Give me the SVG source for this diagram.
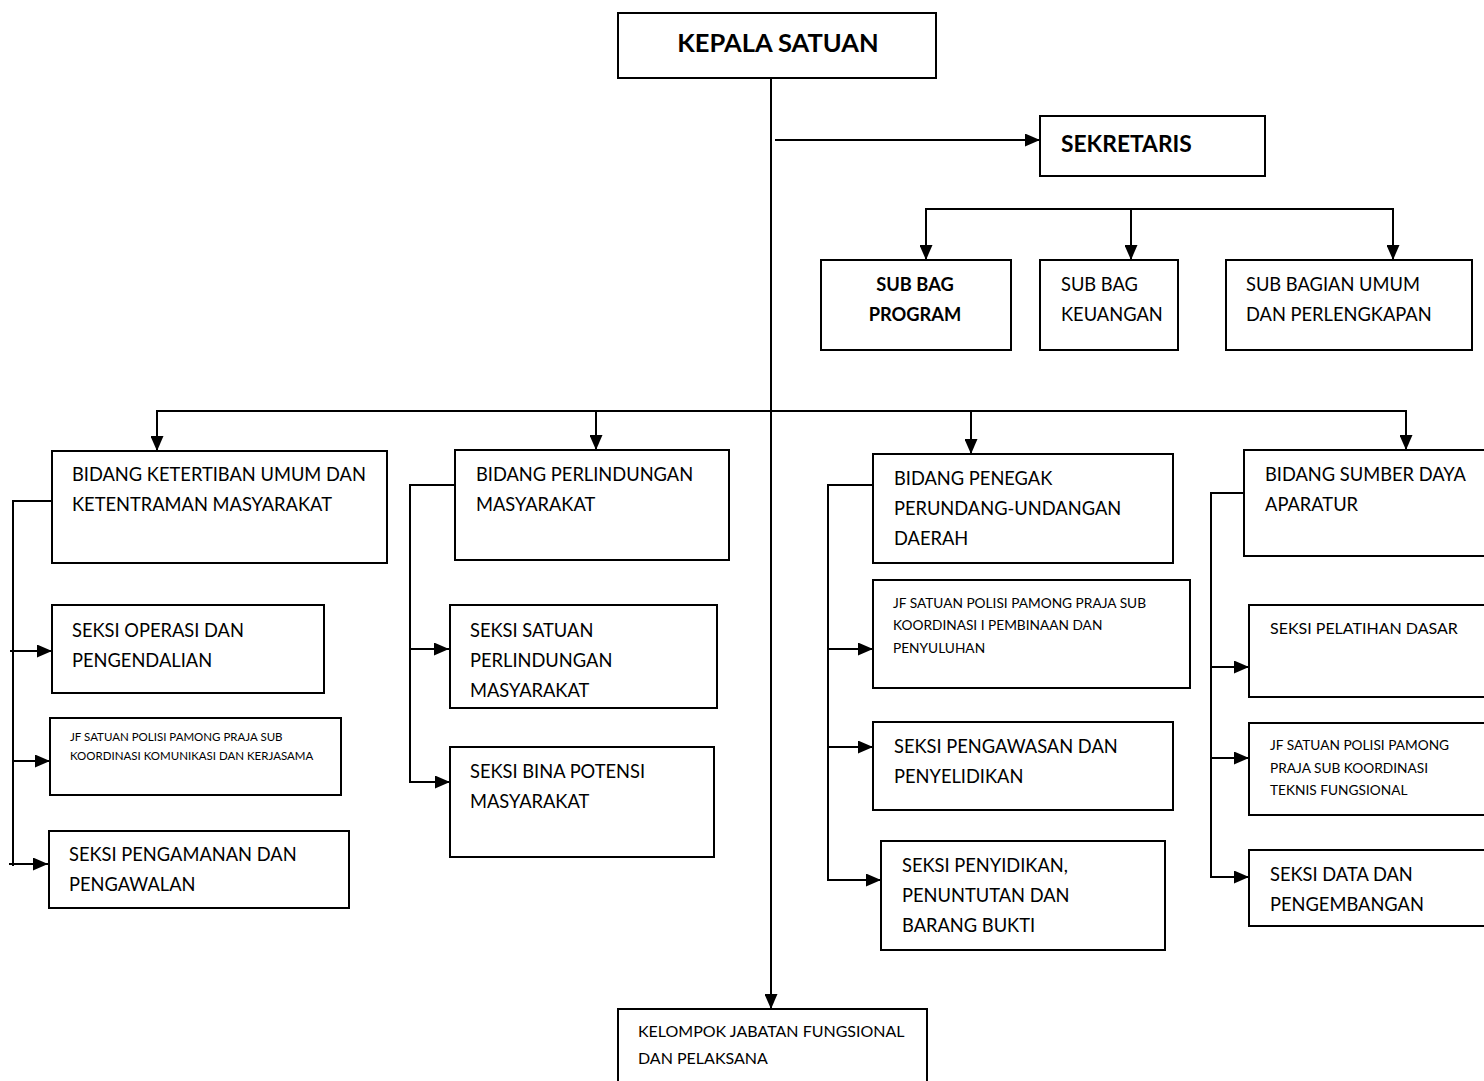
<svg xmlns="http://www.w3.org/2000/svg" width="1484" height="1081" viewBox="0 0 1484 1081">
<defs>
<marker id="ah" markerWidth="15" markerHeight="13" refX="15" refY="6.5" orient="auto" markerUnits="userSpaceOnUse">
<path d="M0,0 L15,6.5 L0,13 Z" fill="#000"/>
</marker>
<style>
rect{fill:#fff;stroke:#000;stroke-width:2}
.c line,.c polyline{stroke:#000;stroke-width:2;fill:none}
text{font-family:Lato,"Open Sans",sans-serif;fill:#000}
.t{font-size:18.3px}
.b{font-weight:bold}
.s{font-size:11.5px}
.s2{font-size:13.7px}
.m{font-size:16px}
</style>
</defs>
<rect x="0" y="0" width="1484" height="1081" style="stroke:none"/>
<g class="c" id="connectors">
<line x1="771" y1="78" x2="771" y2="1009" marker-end="url(#ah)"/>
<line x1="775" y1="140" x2="1040" y2="140" marker-end="url(#ah)"/>
<line x1="926" y1="209" x2="1393" y2="209"/>
<line x1="926" y1="208" x2="926" y2="260" marker-end="url(#ah)"/>
<line x1="1131" y1="208" x2="1131" y2="260" marker-end="url(#ah)"/>
<line x1="1393" y1="208" x2="1393" y2="260" marker-end="url(#ah)"/>
<line x1="157" y1="411" x2="1406" y2="411"/>
<line x1="157" y1="410" x2="157" y2="451" marker-end="url(#ah)"/>
<line x1="596" y1="410" x2="596" y2="450" marker-end="url(#ah)"/>
<line x1="971" y1="410" x2="971" y2="454" marker-end="url(#ah)"/>
<line x1="1406" y1="410" x2="1406" y2="450" marker-end="url(#ah)"/>
<polyline points="52,501 13,501 13,866"/>
<line x1="10" y1="651" x2="52" y2="651" marker-end="url(#ah)"/>
<line x1="13" y1="761" x2="50" y2="761" marker-end="url(#ah)"/>
<line x1="9" y1="864" x2="48" y2="864" marker-end="url(#ah)"/>
<polyline points="455,485 410,485 410,783"/>
<line x1="410" y1="649" x2="449" y2="649" marker-end="url(#ah)"/>
<line x1="409" y1="782" x2="450" y2="782" marker-end="url(#ah)"/>
<polyline points="873,485 828,485 828,881"/>
<line x1="828" y1="649" x2="873" y2="649" marker-end="url(#ah)"/>
<line x1="828" y1="747" x2="873" y2="747" marker-end="url(#ah)"/>
<line x1="827" y1="880" x2="881" y2="880" marker-end="url(#ah)"/>
<polyline points="1244,493 1211,493 1211,878"/>
<line x1="1211" y1="667" x2="1249" y2="667" marker-end="url(#ah)"/>
<line x1="1211" y1="758" x2="1249" y2="758" marker-end="url(#ah)"/>
<line x1="1210" y1="877" x2="1249" y2="877" marker-end="url(#ah)"/>
</g>
<g id="kepala">
<rect x="618" y="13" width="318" height="65"/>
<text x="778" y="52" text-anchor="middle" class="b" font-size="25.5">KEPALA SATUAN</text>
</g>
<g id="sekretaris">
<rect x="1040" y="116" width="225" height="60"/>
<text x="1061" y="152" class="b" font-size="22.8">SEKRETARIS</text>
</g>
<g id="subbag-program">
<rect x="821" y="260" width="190" height="90"/>
<text x="915" y="291" text-anchor="middle" class="t b">SUB BAG</text>
<text x="915" y="321" text-anchor="middle" class="t b">PROGRAM</text>
</g>
<g id="subbag-keuangan">
<rect x="1040" y="260" width="138" height="90"/>
<text x="1061" y="291" class="t">SUB BAG</text>
<text x="1061" y="321" class="t">KEUANGAN</text>
</g>
<g id="subbag-umum">
<rect x="1226" y="260" width="246" height="90"/>
<text x="1246" y="291" class="t">SUB BAGIAN UMUM</text>
<text x="1246" y="321" class="t">DAN PERLENGKAPAN</text>
</g>
<g id="bidang-ketertiban">
<rect x="52" y="451" width="335" height="112"/>
<text x="72" y="481" class="t">BIDANG KETERTIBAN UMUM DAN</text>
<text x="72" y="511" class="t">KETENTRAMAN MASYARAKAT</text>
</g>
<g id="seksi-operasi">
<rect x="52" y="605" width="272" height="88"/>
<text x="72" y="637" class="t">SEKSI OPERASI DAN</text>
<text x="72" y="667" class="t">PENGENDALIAN</text>
</g>
<g id="jf-komunikasi">
<rect x="50" y="718" width="291" height="77"/>
<text x="70" y="741" class="s">JF SATUAN POLISI PAMONG PRAJA SUB</text>
<text x="70" y="760" class="s">KOORDINASI KOMUNIKASI DAN KERJASAMA</text>
</g>
<g id="seksi-pengamanan">
<rect x="49" y="831" width="300" height="77"/>
<text x="69" y="861" class="t">SEKSI PENGAMANAN DAN</text>
<text x="69" y="891" class="t">PENGAWALAN</text>
</g>
<g id="bidang-perlindungan">
<rect x="455" y="450" width="274" height="110"/>
<text x="476" y="481" class="t">BIDANG PERLINDUNGAN</text>
<text x="476" y="511" class="t">MASYARAKAT</text>
</g>
<g id="seksi-satuan">
<rect x="450" y="605" width="267" height="103"/>
<text x="470" y="637" class="t">SEKSI SATUAN</text>
<text x="470" y="667" class="t">PERLINDUNGAN</text>
<text x="470" y="697" class="t">MASYARAKAT</text>
</g>
<g id="seksi-bina">
<rect x="450" y="747" width="264" height="110"/>
<text x="470" y="778" class="t">SEKSI BINA POTENSI</text>
<text x="470" y="808" class="t">MASYARAKAT</text>
</g>
<g id="bidang-penegak">
<rect x="873" y="454" width="300" height="109"/>
<text x="894" y="485" class="t">BIDANG PENEGAK</text>
<text x="894" y="515" class="t">PERUNDANG-UNDANGAN</text>
<text x="894" y="545" class="t">DAERAH</text>
</g>
<g id="jf-pembinaan">
<rect x="873" y="580" width="317" height="108"/>
<text x="893" y="608" class="s2">JF SATUAN POLISI PAMONG PRAJA SUB</text>
<text x="893" y="630" class="s2">KOORDINASI I PEMBINAAN DAN</text>
<text x="893" y="653" class="s2">PENYULUHAN</text>
</g>
<g id="seksi-pengawasan">
<rect x="873" y="722" width="300" height="88"/>
<text x="894" y="753" class="t">SEKSI PENGAWASAN DAN</text>
<text x="894" y="783" class="t">PENYELIDIKAN</text>
</g>
<g id="seksi-penyidikan">
<rect x="881" y="841" width="284" height="109"/>
<text x="902" y="872" class="t">SEKSI PENYIDIKAN,</text>
<text x="902" y="902" class="t">PENUNTUTAN DAN</text>
<text x="902" y="932" class="t">BARANG BUKTI</text>
</g>
<g id="bidang-sdm">
<rect x="1244" y="450" width="250" height="106"/>
<text x="1265" y="481" class="t">BIDANG SUMBER DAYA</text>
<text x="1265" y="511" class="t">APARATUR</text>
</g>
<g id="seksi-pelatihan">
<rect x="1249" y="605" width="245" height="92"/>
<text x="1270" y="634" class="m">SEKSI PELATIHAN DASAR</text>
</g>
<g id="jf-teknis">
<rect x="1249" y="723" width="245" height="92"/>
<text x="1270" y="750" class="s2">JF SATUAN POLISI PAMONG</text>
<text x="1270" y="773" class="s2">PRAJA SUB KOORDINASI</text>
<text x="1270" y="795" class="s2">TEKNIS FUNGSIONAL</text>
</g>
<g id="seksi-data">
<rect x="1249" y="850" width="245" height="76"/>
<text x="1270" y="881" class="t">SEKSI DATA DAN</text>
<text x="1270" y="911" class="t">PENGEMBANGAN</text>
</g>
<g id="kelompok">
<rect x="618" y="1009" width="309" height="90"/>
<text x="638" y="1037" class="m">KELOMPOK JABATAN FUNGSIONAL</text>
<text x="638" y="1064" class="m">DAN PELAKSANA</text>
</g>
</svg>
